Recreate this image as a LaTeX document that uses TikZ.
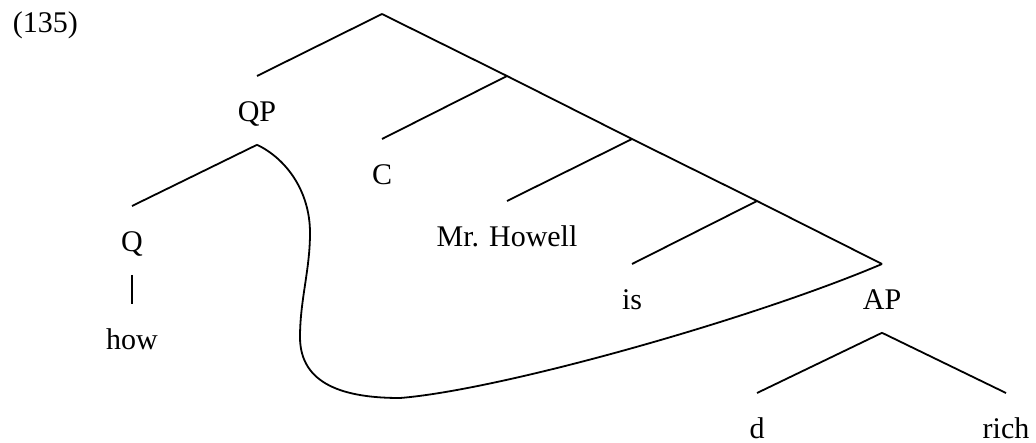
\documentclass[tikz,border=0pt]{standalone}
\usepackage{fontspec}
\setmainfont{Liberation Serif}
\begin{document}
\begin{tikzpicture}[x=0.5pt,y=-0.5pt, line width=0.9pt,
  lbl/.style={inner sep=0pt, text height=22.5pt, text depth=11pt, font=\fontsize{15}{18}\selectfont},
  ex/.style={inner sep=0pt, font=\fontsize{15}{18}\selectfont}]
\useasboundingbox (0,0) rectangle (1036,443);
\node[ex, anchor=base west] (num) at (12,33) {(135)};
\coordinate (root) at (382,14);
\coordinate (j1) at (507,76);
\coordinate (j2) at (632,139);
\coordinate (j3) at (757,201);
\node[lbl, anchor=north] (QP) at (257,76) {QP};
\node[lbl, anchor=north] (C) at (382,139) {C};
\node[lbl, anchor=north] (MH) at (507,201) {Mr. Howell};
\node[lbl, anchor=north] (is) at (632,264) {is};
\node[lbl, anchor=north] (AP) at (882,264) {AP};
\node[lbl, anchor=north] (Q) at (132,206) {Q};
\node[lbl, anchor=north] (how) at (132,304) {how};
\node[lbl, anchor=north] (d) at (757,393) {d};
\node[lbl, anchor=north] (rich) at (1006,393) {rich};
\draw (root) -- (QP.north);
\draw (root) -- (j1) -- (j2) -- (j3) -- (AP.north);
\draw (j1) -- (C.north);
\draw (j2) -- (MH.north);
\draw (j3) -- (is.north);
\draw (QP.south) -- (Q.north);
\draw (Q.south) -- (how.north);
\draw (AP.south) -- (d.north);
\draw (AP.south) -- (rich.north);
\coordinate (c1) at (310,233);
\coordinate (c2) at (300,337);
\coordinate (c3) at (400,398);
\draw (QP.south) .. controls (285,158) and (310,190) .. (c1)
  .. controls (310,270) and (300,300) .. (c2)
  .. controls (300,385) and (345,398) .. (c3)
  .. controls (500,390) and (750,320) .. (AP.north);
\end{tikzpicture}
\end{document}
